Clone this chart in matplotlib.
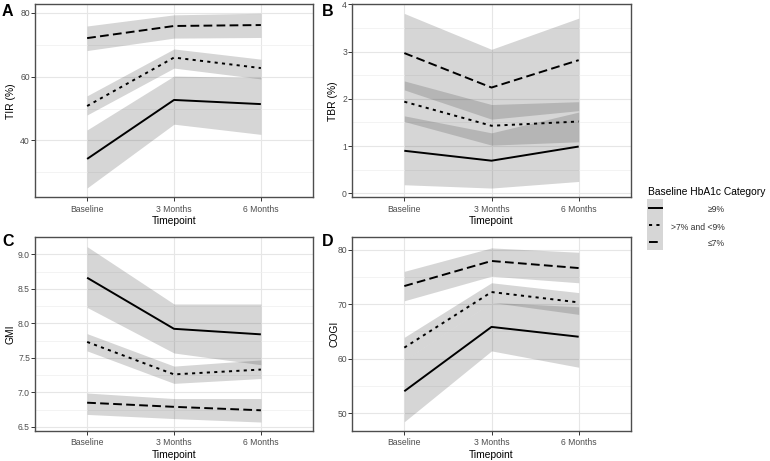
import matplotlib
matplotlib.use("Agg")
import matplotlib.pyplot as plt
from matplotlib.ticker import MultipleLocator, FixedLocator
from matplotlib.lines import Line2D
from matplotlib.patches import Rectangle

plt.rcParams['font.family'] = ['Liberation Sans', 'DejaVu Sans']

timepoints = ["Baseline", "3 Months", "6 Months"]
categories = ["\u22659%", ">7% and <9%", "\u22647%"]
legend_title = "Baseline HbA1c Category"

# rows: >=9%, >7% and <9%, <=7%
tir_mean = [[34.2, 52.7, 51.4], [50.8, 66.0, 62.7], [72.1, 75.9, 76.2]]
tir_lo = [[25.1, 45.1, 41.9], [48.0, 62.7, 59.3], [68.2, 72.1, 72.3]]
tir_hi = [[43.3, 60.2, 59.7], [54.0, 68.7, 65.5], [75.9, 79.4, 79.9]]

tbr_mean = [[0.90, 0.69, 0.99], [1.94, 1.43, 1.52], [2.97, 2.24, 2.82]]
tbr_lo = [[0.18, 0.11, 0.25], [1.52, 1.02, 1.09], [2.19, 1.57, 1.75]]
tbr_hi = [[1.64, 1.28, 1.72], [2.38, 1.88, 1.94], [3.81, 3.05, 3.71]]

gmi_mean = [[8.66, 7.92, 7.84], [7.73, 7.26, 7.33], [6.85, 6.79, 6.74]]
gmi_lo = [[8.23, 7.57, 7.40], [7.60, 7.13, 7.20], [6.68, 6.62, 6.57]]
gmi_hi = [[9.11, 8.28, 8.28], [7.85, 7.38, 7.47], [6.99, 6.91, 6.91]]

cogi_mean = [[54.0, 65.8, 64.0], [62.0, 72.2, 70.3], [73.3, 77.9, 76.6]]
cogi_lo = [[48.4, 61.4, 58.4], [59.7, 70.3, 68.1], [70.6, 75.1, 73.9]]
cogi_hi = [[59.7, 70.3, 69.5], [63.9, 73.9, 72.1], [76.0, 80.3, 79.5]]

W, H = 770, 461
fig = plt.figure(figsize=(W / 100, H / 100), dpi=100)


def rect(l, t, r, b):
    return [l / W, 1 - b / H, (r - l) / W, (b - t) / H]


styles = ['-', (0, (1.6, 2.2)), (0, (4.5, 2.2))]
ribbon_color = '#333333'
ribbon_alpha = 0.2

panels = [
    dict(pos=rect(35, 4, 313, 197.5), mean=tir_mean, lo=tir_lo, hi=tir_hi,
         ylabel="TIR (%)", ylim=(22.1, 82.8), major=[40, 60, 80], minor=[30, 50, 70],
         fmt="{:.0f}", letter="A", lx=2, ly=4, labx=10.5),
    dict(pos=rect(352, 4, 631, 197.5), mean=tbr_mean, lo=tbr_lo, hi=tbr_hi,
         ylabel="TBR (%)", ylim=(-0.09, 4.01), major=[0, 1, 2, 3, 4], minor=[0.5, 1.5, 2.5, 3.5],
         fmt="{:.0f}", letter="B", lx=322, ly=4, labx=333),
    dict(pos=rect(35, 237, 313, 431), mean=gmi_mean, lo=gmi_lo, hi=gmi_hi,
         ylabel="GMI", ylim=(6.44, 9.25), major=[6.5, 7.0, 7.5, 8.0, 8.5, 9.0],
         minor=[6.75, 7.25, 7.75, 8.25, 8.75],
         fmt="{:.1f}", letter="C", lx=2, ly=234, labx=10.5),
    dict(pos=rect(352, 237, 631, 431), mean=cogi_mean, lo=cogi_lo, hi=cogi_hi,
         ylabel="COGI", ylim=(46.7, 82.3), major=[50, 60, 70, 80], minor=[55, 65, 75],
         fmt="{:.0f}", letter="D", lx=322, ly=234, labx=334),
]

xpos = list(range(1, len(timepoints) + 1))

for p in panels:
    ax = fig.add_axes(p['pos'])
    ax.set_axisbelow(True)
    for i in range(len(categories)):
        ax.fill_between(xpos, p['lo'][i], p['hi'][i], color=ribbon_color,
                        alpha=ribbon_alpha, lw=0, zorder=1)
    for i in range(len(categories)):
        ax.plot(xpos, p['mean'][i], color='black', lw=1.4, linestyle=styles[i],
                zorder=3, solid_capstyle='butt', dash_capstyle='butt')
    ax.set_xlim(0.4, 3.6)
    ax.set_ylim(*p['ylim'])
    ax.set_xticks(xpos)
    ax.set_xticklabels(timepoints)
    ax.yaxis.set_major_locator(FixedLocator(p['major']))
    ax.set_yticklabels([p['fmt'].format(v) for v in p['major']])
    ax.yaxis.set_minor_locator(FixedLocator(p['minor']))
    ax.grid(which='major', color='#e6e6e6', lw=0.8)
    ax.grid(which='minor', axis='y', color='#efefef', lw=0.5)
    ax.tick_params(which='minor', length=0)
    ax.tick_params(which='major', length=2.6, width=0.7, color='#333333',
                   labelsize=6.2, labelcolor='#4d4d4d')
    ax.tick_params(axis='x', pad=2.6)
    ax.tick_params(axis='y', pad=1.0)
    for s in ax.spines.values():
        s.set_color('#4d4d4d')
        s.set_linewidth(1.0)
    ax.set_xlabel("Timepoint", fontsize=7.4, color='black')
    ax.set_ylabel(p['ylabel'], fontsize=7.4, color='black')
    l, b, w, h = p['pos']
    axw = w * W
    axh = h * H
    ax.xaxis.set_label_coords(0.5, -23.5 / axh)
    ax.xaxis.label.set_verticalalignment('center')
    ax.yaxis.set_label_coords((p['labx'] - l * W) / axw, 0.5)
    ax.yaxis.label.set_verticalalignment('center')
    fig.text(p['lx'] / W, 1 - p['ly'] / H, p['letter'], fontsize=11.5,
             fontweight='bold', ha='left', va='top')

# legend
fig.text(648 / W, 1 - 192 / H, legend_title, fontsize=7.4, ha='left', va='center')
fig.patches.append(Rectangle((647 / W, 1 - 250 / H), 16 / W, 51 / H,
                             transform=fig.transFigure, facecolor=ribbon_color,
                             alpha=ribbon_alpha, lw=0))
key_y = [208, 225.5, 242]
for i, cat in enumerate(categories):
    y = 1 - key_y[i] / H
    fig.lines.append(Line2D([648.5 / W, 661.5 / W], [y, y], transform=fig.transFigure,
                            color='black', lw=1.4, linestyle=styles[i],
                            dash_capstyle='butt'))
    fig.text(725 / W, 1 - (key_y[i] + 1.5) / H, cat, fontsize=6.2, ha='right',
             va='center', color='#333333')

fig.savefig("out.png", dpi=100)
